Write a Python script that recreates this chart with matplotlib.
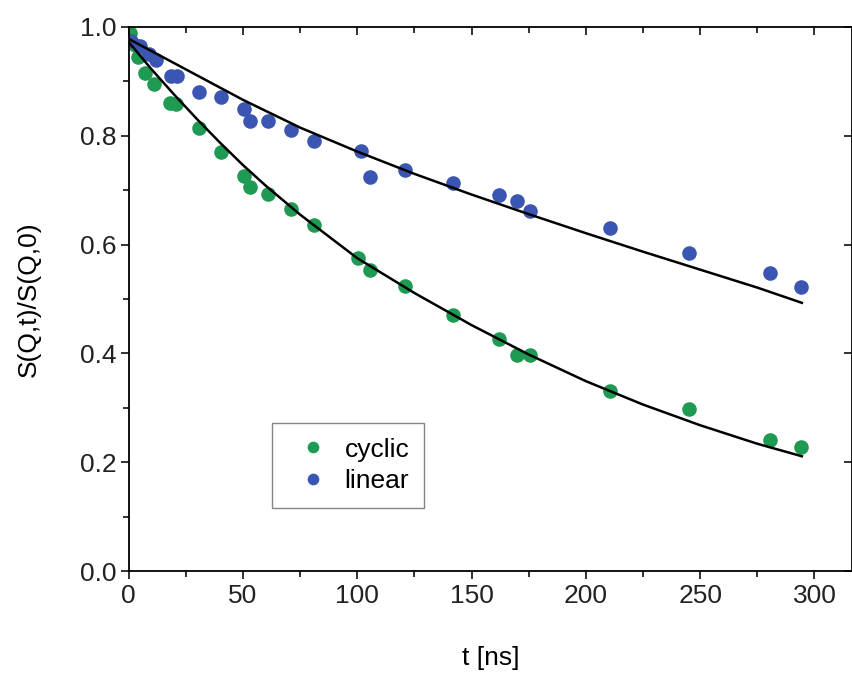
#!/usr/bin/env python3

"""Normalized intermediate scattering function, cyclic vs linear."""

import matplotlib as mpl
import matplotlib.pyplot as plt
from matplotlib.ticker import MultipleLocator

mpl.use("Agg")
plt.rcParams["font.family"] = ["Liberation Sans", "DejaVu Sans"]

# Data
t_cyclic = [0.4, 2.5, 4, 7, 11, 18, 20.5, 30.5, 40.5, 50.5, 53, 61, 71, 81,
            100.5, 105.5, 121, 142, 162, 170, 175.5, 210.5, 245, 280.5, 294]
s_cyclic = [0.989, 0.967, 0.945, 0.915, 0.895, 0.86, 0.858, 0.814, 0.77,
            0.727, 0.706, 0.693, 0.665, 0.636, 0.575, 0.553, 0.524, 0.471,
            0.426, 0.397, 0.397, 0.331, 0.298, 0.241, 0.228]

t_linear = [1, 5, 9, 12, 18.5, 21, 30.5, 40.5, 50.5, 53, 61, 71, 81, 101.5,
            105.5, 121, 142, 162, 170, 175.5, 210.5, 245, 280.5, 294]
s_linear = [0.975, 0.965, 0.95, 0.94, 0.91, 0.91, 0.88, 0.871, 0.849, 0.827,
            0.827, 0.81, 0.79, 0.772, 0.724, 0.737, 0.713, 0.691, 0.68, 0.662,
            0.630, 0.585, 0.548, 0.522]

# Fit curves, read as samples along the drawn lines
t_fit_cyc = [0, 10, 20, 30, 40, 50, 60, 75, 100, 125, 150, 175, 200, 225,
             250, 275, 294.5]
s_fit_cyc = [0.972, 0.922, 0.875, 0.830, 0.787, 0.746, 0.708, 0.655, 0.575,
             0.511, 0.452, 0.398, 0.349, 0.306, 0.268, 0.234, 0.211]

t_fit_lin = [0, 25, 50, 75, 100, 125, 150, 175, 200, 225, 250, 275, 294.5]
s_fit_lin = [0.978, 0.922, 0.866, 0.815, 0.771, 0.730, 0.692, 0.656, 0.621,
             0.587, 0.554, 0.521, 0.493]

green = "#1f9a52"
blue = "#3b55b2"


def main():
    """Entry point."""
    fig = plt.figure(figsize=(8.53, 6.75), dpi=100)
    ax = fig.add_axes([0.151, 0.154, 0.848, 0.806])

    ax.plot(t_fit_cyc, s_fit_cyc, color="black", lw=1.8, zorder=3)
    ax.plot(t_fit_lin, s_fit_lin, color="black", lw=1.8, zorder=3)
    ax.plot(t_cyclic, s_cyclic, "o", color=green, ms=10.5, mew=0,
            label="cyclic", zorder=2)
    ax.plot(t_linear, s_linear, "o", color=blue, ms=10.5, mew=0,
            label="linear", zorder=2)

    ax.set_xlim(0, 316.5)
    ax.set_ylim(0, 1.0)
    ax.xaxis.set_major_locator(MultipleLocator(50))
    ax.xaxis.set_minor_locator(MultipleLocator(25))
    ax.yaxis.set_major_locator(MultipleLocator(0.2))
    ax.yaxis.set_minor_locator(MultipleLocator(0.1))
    ax.yaxis.set_major_formatter(mpl.ticker.FormatStrFormatter("%.1f"))

    for side in ax.spines.values():
        side.set_linewidth(1.3)
    ax.tick_params(which="both", direction="out", labelsize=19, width=1.3,
                   colors="#222222", pad=3)
    ax.tick_params(which="major", length=6)
    ax.tick_params(which="minor", length=4)
    # inward ticks on the top and right frame
    ax.tick_params(which="both", top=True, right=True)
    for t in ax.xaxis.get_major_ticks() + ax.xaxis.get_minor_ticks():
        t.tick2line.set_marker(mpl.lines.TICKDOWN)
    for t in ax.yaxis.get_major_ticks():
        t.tick2line.set_marker(mpl.lines.TICKLEFT)
    ax.tick_params(axis="y", which="minor", right=False)

    ax.set_xlabel("t [ns]", fontsize=19, labelpad=28)
    ax.set_ylabel("S(Q,t)/S(Q,0)", fontsize=19, labelpad=28)

    leg = ax.legend(loc="lower left", bbox_to_anchor=(0.198, 0.116),
                    borderaxespad=0, fontsize=19, frameon=True,
                    fancybox=False, edgecolor="#666666", handletextpad=0.2,
                    borderpad=0.55, labelspacing=0.3, markerscale=0.8,
                    handlelength=2.0)
    leg.get_frame().set_linewidth(1.0)

    fig.savefig("out.png", dpi=100)


if __name__ == "__main__":
    main()
